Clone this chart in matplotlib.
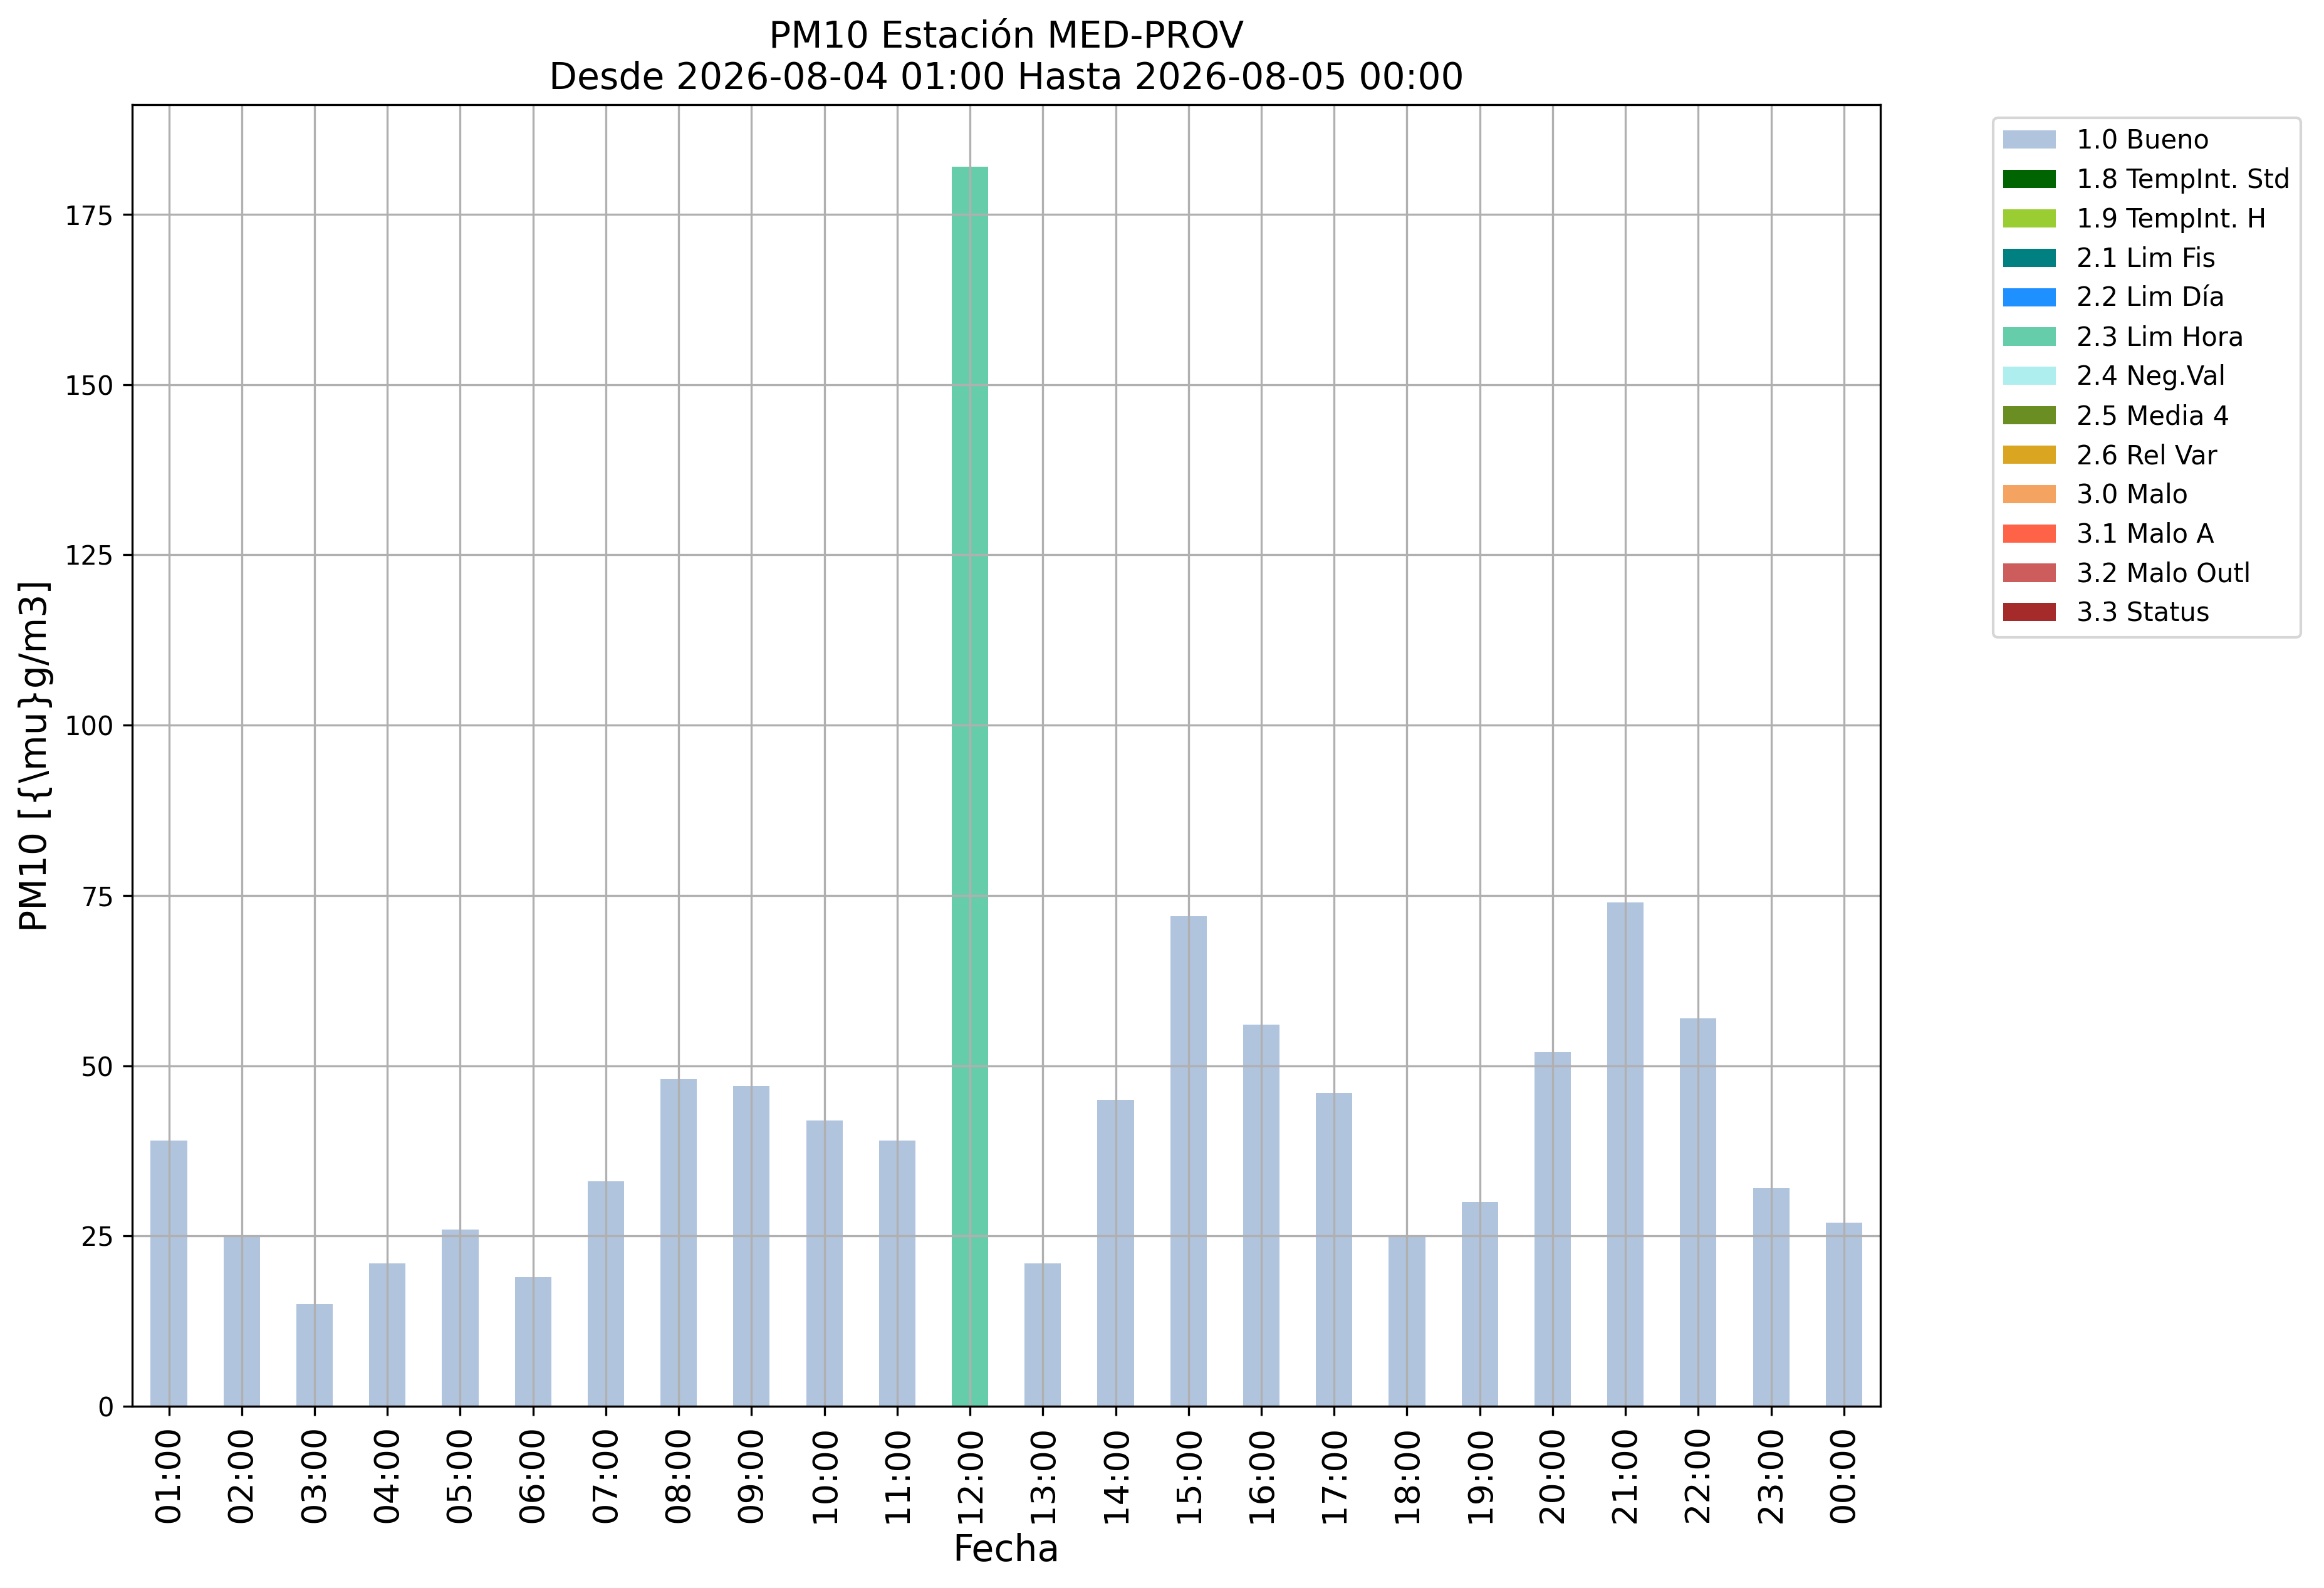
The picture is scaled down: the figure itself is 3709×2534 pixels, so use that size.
import matplotlib
matplotlib.use("Agg")
import matplotlib.pyplot as plt
import numpy as np

# hourly PM10 values and their validation flag
horas = ["01:00", "02:00", "03:00", "04:00", "05:00", "06:00", "07:00", "08:00",
         "09:00", "10:00", "11:00", "12:00", "13:00", "14:00", "15:00", "16:00",
         "17:00", "18:00", "19:00", "20:00", "21:00", "22:00", "23:00", "00:00"]
pm10 = [39, 25, 15, 21, 26, 19, 33, 48, 47, 42, 39, 182,
        21, 45, 72, 56, 46, 25, 30, 52, 74, 57, 32, 27]
flags = ["1.0 Bueno"] * 11 + ["2.3 Lim Hora"] + ["1.0 Bueno"] * 12

categorias = ["1.0 Bueno", "1.8 TempInt. Std", "1.9 TempInt. H", "2.1 Lim Fis",
              "2.2 Lim Día", "2.3 Lim Hora", "2.4 Neg.Val", "2.5 Media 4",
              "2.6 Rel Var", "3.0 Malo", "3.1 Malo A", "3.2 Malo Outl", "3.3 Status"]
colores = ["lightsteelblue", "darkgreen", "yellowgreen", "teal", "dodgerblue",
           "mediumaquamarine", "paleturquoise", "olivedrab", "goldenrod",
           "sandybrown", "tomato", "indianred", "brown"]

fig = plt.figure(figsize=(3709 / 300, 2534 / 300), dpi=300)
ax = fig.add_axes([0.0570, 0.1144, 0.7521, 0.8197])

x = np.arange(len(horas))
# one flag per hour, so each category only fills its own bars
for cat, col in zip(categorias, colores):
    h = [v if f == cat else 0 for v, f in zip(pm10, flags)]
    ax.bar(x, h, width=0.5, color=col, label=cat)

ax.set_xlim(-0.5, len(horas) - 0.5)
ax.set_xticks(x)
ax.set_xticklabels(horas, rotation=90, fontsize=13)
ax.set_title("PM10 Estación MED-PROV\nDesde 2026-08-04 01:00 Hasta 2026-08-05 00:00", fontsize=14)
ax.set_xlabel("Fecha", fontsize=14)
ax.set_ylabel(r"PM10 [{\mu}g/m3]", fontsize=14)
ax.grid(True)
ax.legend(loc="upper left", bbox_to_anchor=(1.057, 1))

fig.savefig("out.png", dpi=300)
